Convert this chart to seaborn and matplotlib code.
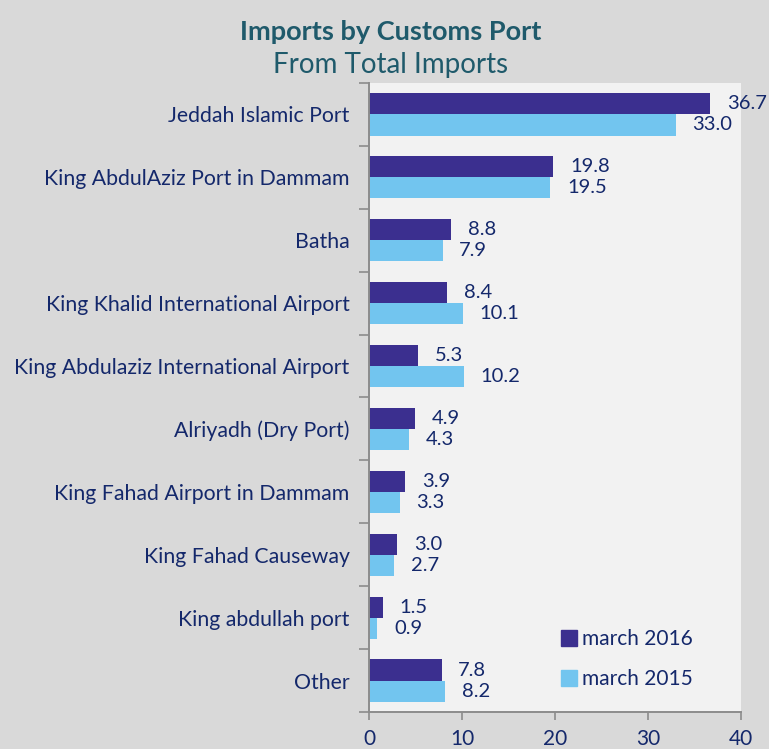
import pandas as pd
import seaborn as sns
import matplotlib.pyplot as plt
from matplotlib.lines import Line2D

ports = ["Jeddah Islamic Port", "King AbdulAziz Port in Dammam", "Batha",
         "King Khalid International Airport", "King Abdulaziz International Airport",
         "Alriyadh (Dry Port)", "King Fahad Airport in Dammam", "King Fahad Causeway",
         "King abdullah port", "Other"]
march_2016 = [36.7, 19.8, 8.8, 8.4, 5.3, 4.9, 3.9, 3.0, 1.5, 7.8]
march_2015 = [33.0, 19.5, 7.9, 10.1, 10.2, 4.3, 3.3, 2.7, 0.9, 8.2]
periods = ["march 2016", "march 2015"]
colors = ["#3b2f8f", "#72c5ef"]

df = pd.DataFrame({
    "port": ports * 2,
    "value": march_2016 + march_2015,
    "period": [periods[0]] * len(ports) + [periods[1]] * len(ports),
})

sns.set_style("white")
plt.rcParams["font.family"] = ["Lato", "DejaVu Sans"]
text_col = "#14286b"

fig = plt.figure(figsize=(7.69, 7.49), dpi=100, facecolor="#d9d9d9")
ax = fig.add_axes([0.480, 0.0494, 0.4836, 0.8398])
ax.set_facecolor("#f2f2f2")

sns.barplot(data=df, y="port", x="value", hue="period", hue_order=periods,
            palette=colors, orient="h", width=0.67, ax=ax, legend=False,
            saturation=1, linewidth=0)

for cont in ax.containers:
    ax.bar_label(cont, fmt="%.1f", padding=12, fontsize=14.5, color=text_col)

ax.set_xlim(0, 40)
ax.set_xticks([0, 10, 20, 30, 40])
ax.set_ylim(len(ports) - 0.5, -0.5)
ax.set_xlabel("")
ax.set_ylabel("")

ax.set_yticks([i - 0.5 for i in range(len(ports) + 1)], minor=True)
ax.tick_params(axis="y", which="major", length=0, pad=14, labelsize=15.3, labelcolor=text_col)
ax.tick_params(axis="y", which="minor", length=7, width=1.2, color="#8c8c8c", left=True)
ax.tick_params(axis="x", which="major", length=6, width=1.2, color="#8c8c8c",
               bottom=True, labelsize=15, labelcolor=text_col, pad=6)

for s in ["top", "right"]:
    ax.spines[s].set_visible(False)
for s in ["left", "bottom"]:
    ax.spines[s].set_color("#8c8c8c")
    ax.spines[s].set_linewidth(1.4)

handles = [Line2D([], [], marker="s", linestyle="", markersize=11,
                  markerfacecolor=c, markeredgecolor=c) for c in colors]
ax.legend(handles, periods, loc="lower right", bbox_to_anchor=(0.92, 0.007),
          frameon=False, fontsize=15, labelcolor=text_col, handletextpad=0.2,
          labelspacing=0.95, handlelength=0.8)

fig.text(0.508, 0.957, "Imports by Customs Port", ha="center", va="center",
         fontsize=19.5, fontweight="bold", color="#1f5a6b")
fig.text(0.508, 0.913, "From Total Imports", ha="center", va="center",
         fontsize=20, color="#1f5a6b")

fig.savefig("out.png", dpi=100, facecolor=fig.get_facecolor())
